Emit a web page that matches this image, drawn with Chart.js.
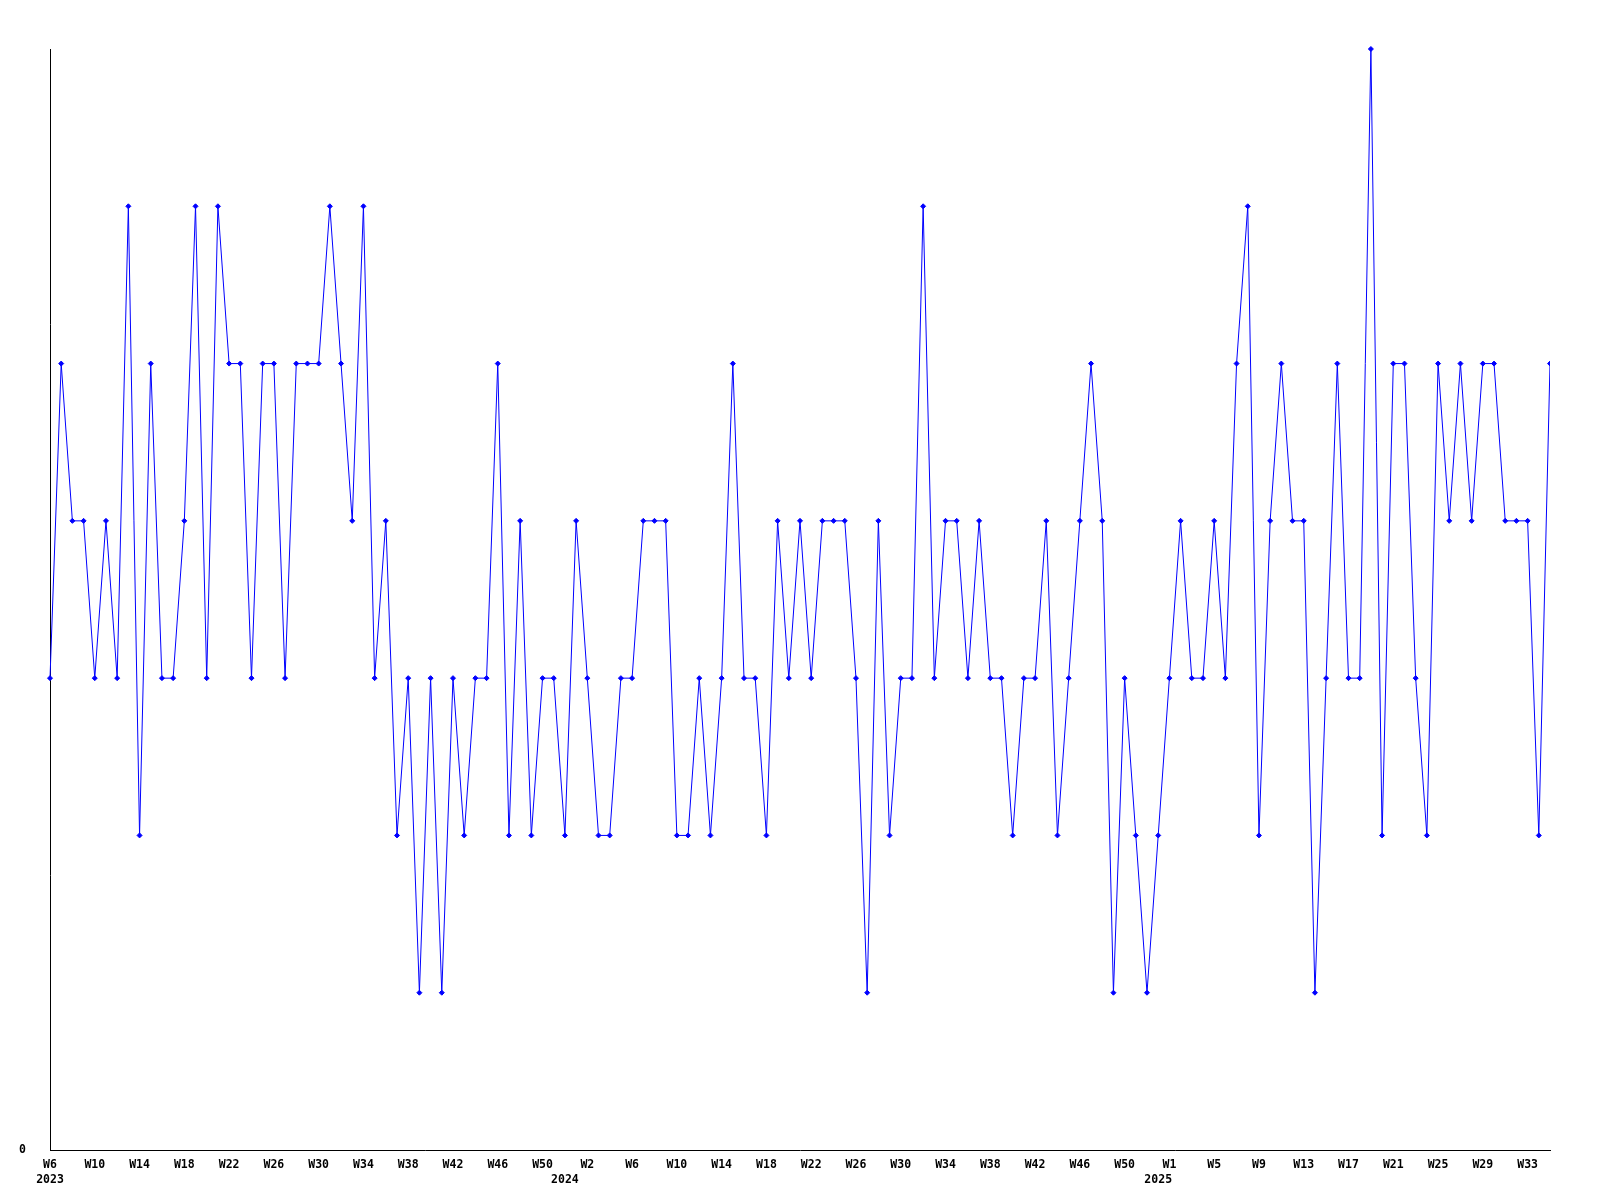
<!DOCTYPE html>
<html>
<head>
<meta charset="utf-8">
<script src="https://cdn.jsdelivr.net/npm/chart.js@4.4.1/dist/chart.umd.min.js"></script>
<style>
  html, body { margin:0; padding:0; background:#fff; }
</style>
</head>
<body>
<canvas id="weeklyChart" width="1600" height="1200"></canvas>
<script>
// weekly counts, W6 2023 .. W35 2025
const years = [2023, 2024, 2025];
const firstWeek = [6, 1, 1];
const lastWeek = [52, 53, 35];

const counts = [
  3,5,4,4,3,4,3,6,2,5,3,3,4,6,3,6,5,5,3,5,5,3,5,5,5,6,5,
  4,6,3,4,2,3,1,3,1,3,2,3,3,5,2,4,2,3,3,2,4,3,2,2,3,3,4,
  4,4,2,2,3,2,3,5,3,3,2,4,3,4,3,4,4,4,3,1,4,2,3,3,6,3,4,
  4,3,4,3,3,2,3,3,4,2,3,4,5,4,1,3,2,1,2,3,4,3,3,4,3,5,6,
  2,4,5,4,4,1,3,5,3,3,7,2,5,5,3,2,5,4,5,4,5,5,4,4,4,2,5
];

const weekLabels = [], weekYear = [];
years.forEach((y, k) => {
  for (let w = firstWeek[k]; w <= lastWeek[k]; w++) { weekLabels.push('W' + w); weekYear.push(y); }
});

const tickFont = { family:'"DejaVu Sans Mono", "Liberation Mono", monospace', size:11.5, weight:'bold', lineHeight:1.3 };

function xTick(i){
  const week = i % 4 === 0 ? weekLabels[i] : '';
  let year = '';
  if (i === 0) year = String(weekYear[0]);
  else if (weekLabels[i+1] === 'W1') year = String(weekYear[i+1]);
  if (year) return [week, year];
  return week;
}

const ctx = document.getElementById('weeklyChart').getContext('2d');
new Chart(ctx, {
  type:'line',
  data:{
    labels: weekLabels,
    datasets:[{
      data: counts,
      borderColor:'#0000ff', borderWidth:1, tension:0, fill:false,
      pointStyle:'rectRot', pointRadius:2.5, pointBorderWidth:1,
      pointBackgroundColor:'#0000ff', pointBorderColor:'#0000ff',
      clip:{ left:6, top:6, right:0, bottom:6 }
    }]
  },
  options:{
    responsive:false, animation:false, devicePixelRatio:1,
    layout:{ padding:{ top:49, right:50, bottom:0, left:0 } },
    plugins:{ legend:{ display:false }, tooltip:{ enabled:false } },
    scales:{
      x:{
        offset:false,
        grid:{ display:false, drawTicks:false },
        border:{ display:true, color:'#000', width:1 },
        ticks:{ autoSkip:false, maxRotation:0, minRotation:0, padding:8, color:'#000', font:tickFont,
          callback:(v, i) => xTick(i) },
        afterFit: s => { s.height = 50; }
      },
      y:{
        min:0, max:7,
        grid:{ display:false, drawTicks:false },
        border:{ display:true, color:'#000', width:1 },
        ticks:{ stepSize:7, padding:24, color:'#000', font:tickFont,
          callback: v => v === 0 ? '0' : null },
        afterFit: s => { s.width = 50; }
      }
    }
  }
});
</script>
</body>
</html>
